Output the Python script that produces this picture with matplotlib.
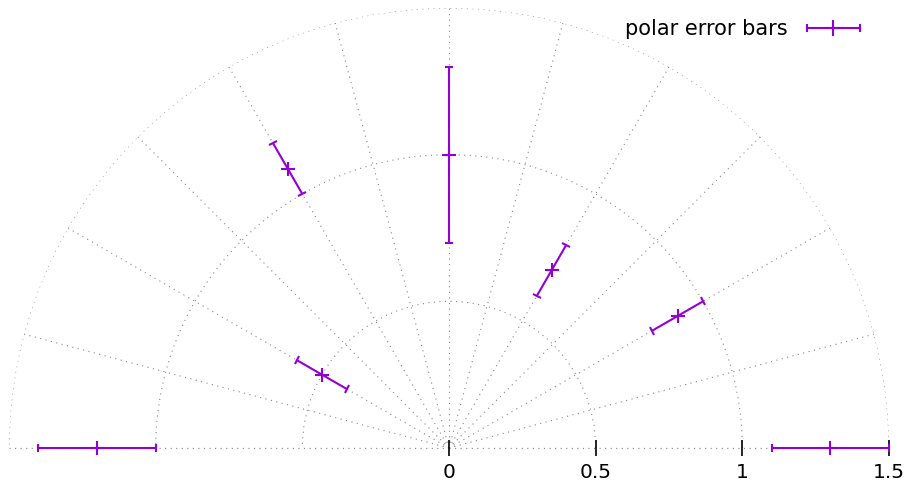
import numpy as np
import matplotlib
matplotlib.use('Agg')
import matplotlib.pyplot as plt
from matplotlib.lines import Line2D
from matplotlib.legend_handler import HandlerLine2D, HandlerTuple

# data
theta_deg = [0, 30, 60, 90, 120, 150, 180]
r_vals = [1.3, 0.9, 0.7, 1.0, 1.1, 0.5, 1.2]
r_err = [0.2, 0.1, 0.1, 0.3, 0.1, 0.1, 0.2]
r_ticks = [0, 0.5, 1, 1.5]
r_ticklabels = ['0', '0.5', '1', '1.5']
label = 'polar error bars'

col = '#9400d3'
grid_kw = dict(color='#888888', lw=0.8, ls=(0, (1, 4)))
W, H = 912, 483

fig = plt.figure(figsize=(W / 100, H / 100), dpi=100)
# half-wedge is fitted into the middle of a square box, so the box is 880x880
ax = fig.add_axes([9 / W, -185 / H, 880 / W, 880 / H], projection='polar')
ax.set_thetamin(0)
ax.set_thetamax(180)
ax.set_ylim(0, 1.5)

# grid
ax.set_thetagrids(np.arange(0, 181, 15), labels=[''] * 13)
ax.set_rgrids([0.5, 1.0, 1.5], labels=['', '', ''])
ax.grid(True, **grid_kw)
for name in ['polar', 'start', 'end', 'inner']:
    ax.spines[name].set_visible(False)
    ax.spines[name].set_color('none')
ax.tick_params(length=0)
# dotted baseline (0 and 180 deg radials)
ax.plot([0, 0], [0, 1.5], clip_on=False, zorder=1, **grid_kw)
ax.plot([np.pi, np.pi], [0, 1.5], clip_on=False, zorder=1, **grid_kw)

# r axis ticks and labels along the baseline
ax.plot(np.zeros(len(r_ticks)), r_ticks, ls='', marker='|', ms=11.5,
        mew=1.2, color='black', clip_on=False, zorder=3)
for rt, lab in zip(r_ticks, r_ticklabels):
    ax.annotate(lab, (0, rt), xytext=(0, -10.5), textcoords='offset points',
                ha='center', va='top', fontsize=14.5, annotation_clip=False)

th = np.deg2rad(theta_deg)
ax.errorbar(th, r_vals, yerr=r_err, fmt='+', color=col, ms=10.5, mew=1.5,
            elinewidth=1.5, capsize=3, capthick=1.5, clip_on=False, zorder=4)

# legend sample: horizontal bar with end caps and a + in the middle
h_bar = Line2D([], [], color=col, lw=1.5, marker='|', ms=6, mew=1.5)
h_pt = Line2D([], [], color=col, ls='', marker='+', ms=11, mew=1.5)
fig.legend([(h_bar, h_pt)], [label], loc='upper right',
           bbox_to_anchor=(866 / W, 1 - 19 / H), bbox_transform=fig.transFigure,
           frameon=False, fontsize=15, numpoints=2, markerfirst=False,
           handlelength=3.15, handletextpad=0.6, borderpad=0, borderaxespad=0,
           handler_map={h_pt: HandlerLine2D(numpoints=1),
                        tuple: HandlerTuple(ndivide=1)})

fig.savefig('out.png', dpi=100)
